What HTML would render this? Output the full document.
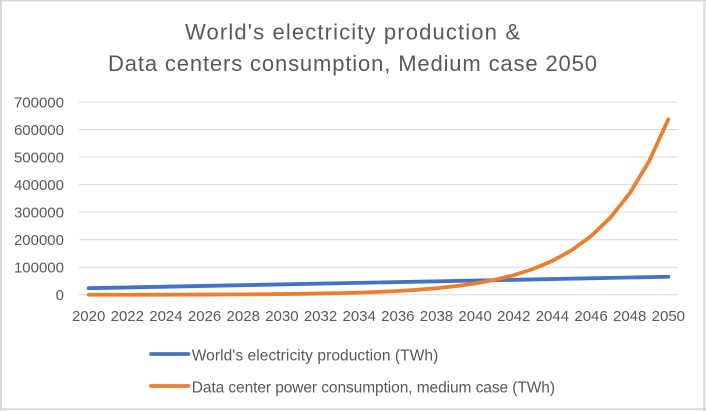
<!DOCTYPE html>
<html><head><meta charset="utf-8"><style>
html,body{margin:0;padding:0;background:#fff;}
svg{display:block;}
text{font-family:"Liberation Sans",Arial,sans-serif;fill:#595959;}
</style></head><body>
<svg width="706" height="411" viewBox="0 0 706 411" xmlns="http://www.w3.org/2000/svg">
<rect x="0" y="0" width="706" height="411" fill="#fff"/>
<line x1="1" y1="0" x2="1" y2="411" stroke="#d9d9d9" stroke-width="2"/>
<line x1="0" y1="0.7" x2="706" y2="0.7" stroke="#d9d9d9" stroke-width="1.5"/>
<line x1="704.3" y1="0" x2="704.3" y2="411" stroke="#d9d9d9" stroke-width="2"/>
<line x1="0" y1="409.3" x2="706" y2="409.3" stroke="#d9d9d9" stroke-width="2"/>

<text x="185" y="39.5" font-size="22" textLength="335" lengthAdjust="spacing">World's electricity production &amp;</text>
<text x="108" y="71" font-size="22" textLength="489" lengthAdjust="spacing">Data centers consumption, Medium case 2050</text>

<g stroke="#d9d9d9" stroke-width="1">
<line x1="79" y1="102" x2="678" y2="102"/>
<line x1="79" y1="129.54" x2="678" y2="129.54"/>
<line x1="79" y1="157.08" x2="678" y2="157.08"/>
<line x1="79" y1="184.63" x2="678" y2="184.63"/>
<line x1="79" y1="212.17" x2="678" y2="212.17"/>
<line x1="79" y1="239.71" x2="678" y2="239.71"/>
<line x1="79" y1="267.25" x2="678" y2="267.25"/>
<line x1="79" y1="294.8" x2="678" y2="294.8"/>
</g>

<g font-size="15" text-anchor="end">
<text x="64" y="107.4">700000</text>
<text x="64" y="134.9">600000</text>
<text x="64" y="162.5">500000</text>
<text x="64" y="190">400000</text>
<text x="64" y="217.6">300000</text>
<text x="64" y="245.1">200000</text>
<text x="64" y="272.7">100000</text>
<text x="64" y="300.2">0</text>
</g>

<g font-size="15" text-anchor="middle">
<text x="88.66" y="321">2020</text>
<text x="127.31" y="321">2022</text>
<text x="165.95" y="321">2024</text>
<text x="204.60" y="321">2026</text>
<text x="243.24" y="321">2028</text>
<text x="281.89" y="321">2030</text>
<text x="320.54" y="321">2032</text>
<text x="359.18" y="321">2034</text>
<text x="397.83" y="321">2036</text>
<text x="436.47" y="321">2038</text>
<text x="475.12" y="321">2040</text>
<text x="513.77" y="321">2042</text>
<text x="552.41" y="321">2044</text>
<text x="591.06" y="321">2046</text>
<text x="629.70" y="321">2048</text>
<text x="668.35" y="321">2050</text>
</g>

<polyline fill="none" stroke="#4472C4" stroke-width="3.8" stroke-linecap="round" stroke-linejoin="round"
points="88.66,288.2 668.35,276.76"/>

<polyline fill="none" stroke="#ED7D31" stroke-width="3.8" stroke-linecap="round" stroke-linejoin="round"
points="88.66,294.75 107.98,294.74 127.31,294.72 146.63,294.7 165.95,294.68 185.28,294.61 204.60,294.55 223.92,294.48 243.24,294.38 262.57,294.24 281.89,294.07 301.21,293.83 320.54,293.53 339.86,293.13 359.18,292.61 378.50,291.91 397.83,291.01 417.15,289.81 436.47,288.24 455.80,286.17 475.12,283.45 494.44,279.88 513.77,275.18 533.09,269.0 552.41,260.87 571.73,250.18 591.06,236.12 610.38,217.64 629.70,193.34 649.03,161.38 668.35,119.35"/>

<line x1="151" y1="354" x2="188.5" y2="354" stroke="#4472C4" stroke-width="3.8" stroke-linecap="round"/>
<text x="191.7" y="360.7" font-size="15.5" textLength="246.6" lengthAdjust="spacing">World's electricity production (TWh)</text>
<line x1="151" y1="386" x2="188.5" y2="386" stroke="#ED7D31" stroke-width="3.8" stroke-linecap="round"/>
<text x="191.7" y="392.3" font-size="15.5" textLength="363.3" lengthAdjust="spacing">Data center power consumption, medium case (TWh)</text>
</svg>
</body></html>
